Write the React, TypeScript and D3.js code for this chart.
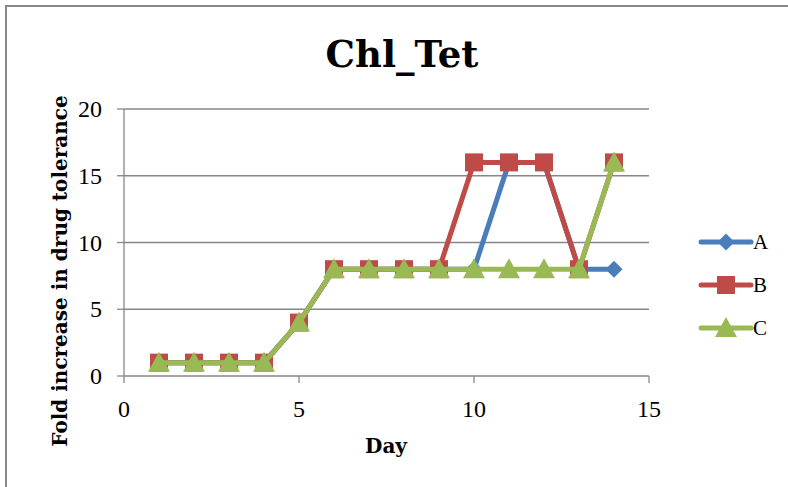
import React from "react";
import * as d3 from "d3";

const days = [1, 2, 3, 4, 5, 6, 7, 8, 9, 10, 11, 12, 13, 14];
const seriesA = [1, 1, 1, 1, 4, 8, 8, 8, 8, 8, 16, 16, 8, 8];
const seriesB = [1, 1, 1, 1, 4, 8, 8, 8, 8, 16, 16, 16, 8, 16];
const seriesC = [1, 1, 1, 1, 4, 8, 8, 8, 8, 8, 8, 8, 8, 16];
const seriesNames = ["A", "B", "C"];
const seriesColors = ["#4A7EBB", "#BE4B48", "#98B954"];
const xTicks = [0, 5, 10, 15];
const yTicks = [0, 5, 10, 15, 20];

const W = 788;
const H = 487;
const SERIF = "'Liberation Serif', serif";
const BOLD_SERIF = "'DejaVu Serif', serif";

function Marker({ kind, x, y, color }: { kind: number; x: number; y: number; color: string }) {
  if (kind === 0) {
    const r = 8.5;
    return <path d={`M${x},${y - r}L${x + r},${y}L${x},${y + r}L${x - r},${y}Z`} fill={color} />;
  }
  if (kind === 1) {
    const s = 9;
    return <rect x={x - s} y={y - s} width={2 * s} height={2 * s} fill={color} />;
  }
  const s = 10;
  return <path d={`M${x},${y - s - 1}L${x + s + 1},${y + s - 1}L${x - s - 1},${y + s - 1}Z`} fill={color} />;
}

export default function App() {
  const x = d3.scaleLinear().domain([0, 15]).range([124, 649]);
  const y = d3.scaleLinear().domain([0, 20]).range([376, 109]);
  const all = [seriesA, seriesB, seriesC];
  const line = d3
    .line<number>()
    .x((_, i) => x(days[i]))
    .y((v) => y(v));

  const legendY = [242, 285, 328];

  return (
    <svg
      width={W}
      height={H}
      style={{ position: "absolute", left: 0, top: 0, background: "#fff" }}
    >
      <rect x={6} y={6} width={W + 10} height={H + 10} fill="#fff" stroke="#898989" strokeWidth={2} />
      <text x={402} y={67} textAnchor="middle" fontFamily={BOLD_SERIF} fontWeight="bold" fontSize={37}>
        Chl_Tet
      </text>

      {yTicks.map((t) => (
        <g key={"y" + t}>
          {t > 0 && <line x1={124} x2={649} y1={y(t)} y2={y(t)} stroke="#878787" strokeWidth={1.3} />}
          <line x1={117} x2={124} y1={y(t)} y2={y(t)} stroke="#878787" strokeWidth={1.3} />
          <text x={102} y={y(t) + 8} textAnchor="end" fontFamily={SERIF} fontSize={24}>
            {t}
          </text>
        </g>
      ))}
      <line x1={124} x2={124} y1={109} y2={376} stroke="#878787" strokeWidth={1.3} />
      <line x1={124} x2={649} y1={376} y2={376} stroke="#878787" strokeWidth={1.3} />
      {xTicks.map((t) => (
        <g key={"x" + t}>
          <line x1={x(t)} x2={x(t)} y1={376} y2={383} stroke="#878787" strokeWidth={1.3} />
          <text x={x(t)} y={417} textAnchor="middle" fontFamily={SERIF} fontSize={24}>
            {t}
          </text>
        </g>
      ))}

      <text x={386} y={453} textAnchor="middle" fontFamily={BOLD_SERIF} fontWeight="bold" fontSize={20}>
        Day
      </text>
      <text
        transform="translate(67,271) rotate(-90)"
        textAnchor="middle"
        fontFamily={BOLD_SERIF}
        fontWeight="bold"
        fontSize={20}
      >
        Fold increase in drug tolerance
      </text>

      {all.map((s, k) => (
        <g key={"s" + k}>
          <path d={line(s) || ""} fill="none" stroke={seriesColors[k]} strokeWidth={5} strokeLinejoin="round" />
          {s.map((v, i) => (
            <Marker key={i} kind={k} x={x(days[i])} y={y(v)} color={seriesColors[k]} />
          ))}
        </g>
      ))}

      {seriesNames.map((n, k) => (
        <g key={"l" + n}>
          <line x1={701} x2={751} y1={legendY[k]} y2={legendY[k]} stroke={seriesColors[k]} strokeWidth={5} strokeLinecap="round" />
          <Marker kind={k} x={726} y={legendY[k]} color={seriesColors[k]} />
          <text x={753} y={legendY[k] + 7} fontFamily={SERIF} fontSize={21}>
            {n}
          </text>
        </g>
      ))}
    </svg>
  );
}
